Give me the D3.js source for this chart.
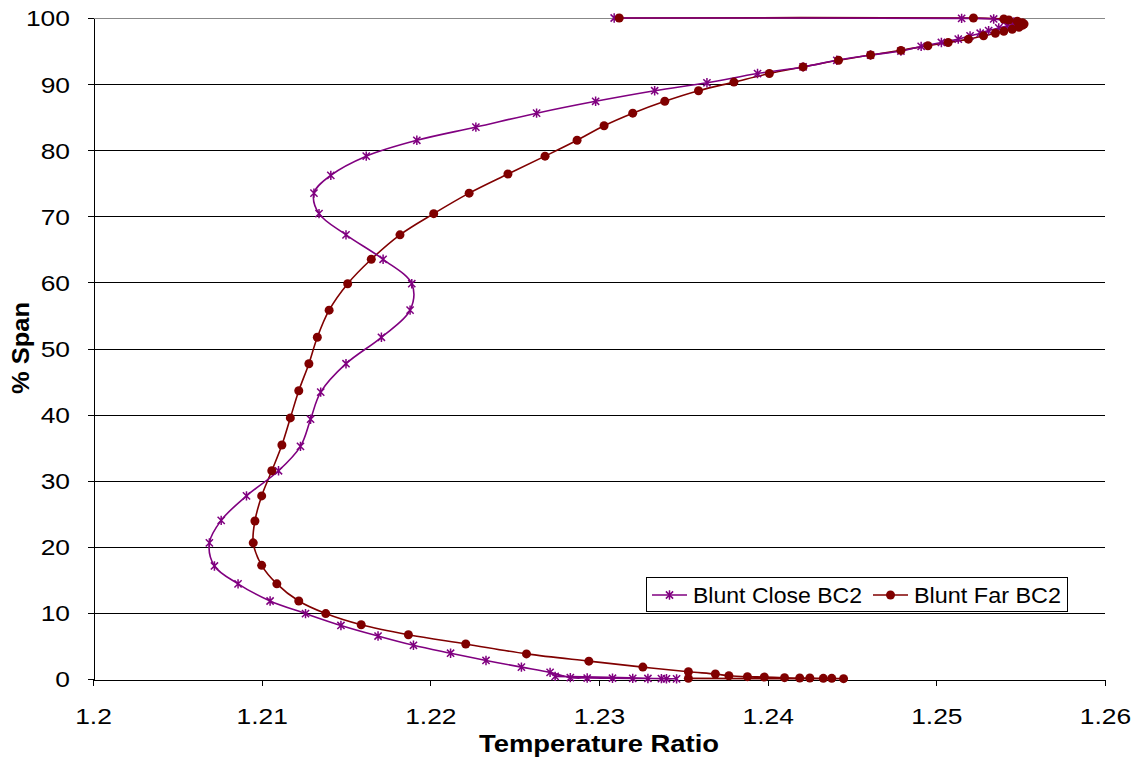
<!DOCTYPE html>
<html><head><meta charset="utf-8">
<script src="https://cdn.jsdelivr.net/npm/d3@7"></script>
<style>body{margin:0;background:#fff}svg{display:block;font-family:"Liberation Sans",Arial,sans-serif}</style>
</head><body><svg id="c" width="1147" height="763"></svg>
<script>
const xTicks = [1.2, 1.21, 1.22, 1.23, 1.24, 1.25, 1.26];
const yTicks = [0, 10, 20, 30, 40, 50, 60, 70, 80, 90, 100];
const seriesNames = ["Blunt Close BC2", "Blunt Far BC2"];
const closeX = [1.2274, 1.2346, 1.2340, 1.2337, 1.2329, 1.2320, 1.2308, 1.2293, 1.2283, 1.2271, 1.2254, 1.2233, 1.2212, 1.2190, 1.2169, 1.2147, 1.2126, 1.2105, 1.2086, 1.2072, 1.2069, 1.2076, 1.2091, 1.2110, 1.2123, 1.2129, 1.2135, 1.2150, 1.2171, 1.2188, 1.2189, 1.2172, 1.2150, 1.2134, 1.2131, 1.2141, 1.2162, 1.2192, 1.2227, 1.2263, 1.2298, 1.2333, 1.2364, 1.2394, 1.2421, 1.2441, 1.2461, 1.2479, 1.2491, 1.2503, 1.2513, 1.2520, 1.2526, 1.2531, 1.2537, 1.2542, 1.2546, 1.2546, 1.2541, 1.2534, 1.2515, 1.2309];
const closeY = [0.4, 0.02, 0.03, 0.05, 0.08, 0.1, 0.12, 0.15, 0.2, 1.0, 1.8, 2.8, 3.9, 5.1, 6.5, 8.1, 9.9, 11.8, 14.4, 17.1, 20.6, 24.0, 27.7, 31.5, 35.2, 39.3, 43.4, 47.7, 51.7, 55.8, 59.8, 63.5, 67.2, 70.4, 73.5, 76.2, 79.1, 81.5, 83.5, 85.6, 87.4, 89.0, 90.2, 91.6, 92.6, 93.6, 94.4, 95.0, 95.7, 96.3, 96.8, 97.3, 97.7, 98.1, 98.5, 98.8, 99.1, 99.4, 99.6, 99.85, 99.95, 100];
const farX = [1.2353, 1.2445, 1.2438, 1.2433, 1.2425, 1.2419, 1.2410, 1.2398, 1.2388, 1.2377, 1.2369, 1.2353, 1.2326, 1.2294, 1.2257, 1.2221, 1.2187, 1.2159, 1.2138, 1.2122, 1.2109, 1.2100, 1.2095, 1.2096, 1.2100, 1.2106, 1.2112, 1.2117, 1.2122, 1.2128, 1.2133, 1.2140, 1.2151, 1.2165, 1.2182, 1.2202, 1.2223, 1.2246, 1.2268, 1.2287, 1.2303, 1.2320, 1.2339, 1.2359, 1.2380, 1.2401, 1.2421, 1.2442, 1.2461, 1.2479, 1.2495, 1.2507, 1.2519, 1.2528, 1.2535, 1.2540, 1.2545, 1.2549, 1.2551, 1.2552, 1.2551, 1.2548, 1.2543, 1.2540, 1.2522, 1.2312];
const farY = [0.1, 0.05, 0.1, 0.1, 0.15, 0.15, 0.2, 0.3, 0.35, 0.5, 0.75, 1.1, 1.8, 2.7, 3.8, 5.3, 6.7, 8.2, 9.9, 11.8, 14.4, 17.2, 20.6, 23.9, 27.7, 31.5, 35.4, 39.5, 43.6, 47.7, 51.7, 55.8, 59.8, 63.5, 67.2, 70.4, 73.5, 76.4, 79.1, 81.5, 83.7, 85.6, 87.4, 89.0, 90.3, 91.6, 92.6, 93.6, 94.4, 95.1, 95.8, 96.3, 96.8, 97.3, 97.7, 98.0, 98.3, 98.6, 98.9, 99.1, 99.3, 99.5, 99.7, 99.85, 100, 100];

const svg = d3.select("#c");
const L = 93, R = 1105, T = 18, B = 679;
const x = d3.scaleLinear().domain([1.2, 1.26]).range([L, R]);
const y = d3.scaleLinear().domain([0, 100]).range([B, T]);

function stretch(sel, k) {
  sel.each(function () {
    const w = this.getComputedTextLength();
    d3.select(this).attr("textLength", w * k).attr("lengthAdjust", "spacingAndGlyphs");
  });
}

// gridlines
svg.append("g").selectAll("line").data(yTicks.filter(d => d > 0)).join("line")
  .attr("x1", L).attr("x2", R)
  .attr("y1", d => Math.round(y(d)) + 0.5).attr("y2", d => Math.round(y(d)) + 0.5)
  .attr("stroke", d => d === 100 ? "#888" : "#000").attr("stroke-width", 1).attr("shape-rendering", "crispEdges");

// axes
const xAxis = d3.axisBottom(x).tickValues(xTicks).tickFormat(d => String(+d.toFixed(2))).tickSize(6).tickSizeOuter(0);
const gx = svg.append("g").attr("transform", `translate(0,${Math.round(B)+0.5})`).call(xAxis);
gx.select(".domain").attr("stroke", "#000").attr("shape-rendering", "crispEdges");
gx.selectAll(".tick line").attr("stroke", "#000").attr("shape-rendering", "crispEdges");
gx.selectAll(".tick text").attr("font-size", 22).attr("font-family", "Liberation Sans, Arial, sans-serif")
  .attr("fill", "#000").attr("dy", null).attr("y", 44.5);
stretch(gx.selectAll(".tick text"), 1.2);

const yAxis = d3.axisLeft(y).tickValues(yTicks).tickSize(6).tickSizeOuter(0);
const gy = svg.append("g").attr("transform", `translate(${L+0.5},0)`).call(yAxis);
gy.select(".domain").attr("stroke", "#000").attr("shape-rendering", "crispEdges");
gy.selectAll(".tick line").attr("stroke", "#000").attr("shape-rendering", "crispEdges");
gy.selectAll(".tick text").attr("font-size", 22).attr("font-family", "Liberation Sans, Arial, sans-serif")
  .attr("fill", "#000").attr("x", -23.5).attr("dy", "0.36em");
stretch(gy.selectAll(".tick text"), 1.2);

// axis titles
svg.append("text").attr("x", 599).attr("y", 752).attr("text-anchor", "middle")
  .attr("font-size", 23).attr("font-weight", "bold").attr("textLength", 240).attr("lengthAdjust", "spacingAndGlyphs")
  .text("Temperature Ratio");
svg.append("text").attr("transform", `translate(29,348) rotate(-90)`).attr("text-anchor", "middle")
  .attr("font-size", 23).attr("font-weight", "bold").attr("textLength", 92).attr("lengthAdjust", "spacingAndGlyphs")
  .text("% Span");

const closeData = closeX.map((v, i) => [v, closeY[i]]);
const farData = farX.map((v, i) => [v, farY[i]]);
const line = d3.line().x(d => x(d[0])).y(d => y(d[1])).curve(d3.curveCatmullRom.alpha(0.5));

const cPurple = "#800080", cRed = "#800000";
const starPath = (s) => `M${-s},${-s}L${s},${s}M${-s},${s}L${s},${-s}M0,${-s * 1.3}L0,${s * 1.3}`;

svg.append("path").datum(farData).attr("d", line).attr("fill", "none").attr("stroke", cRed).attr("stroke-width", 1.6);
svg.append("path").datum(closeData).attr("d", line).attr("fill", "none").attr("stroke", cPurple).attr("stroke-width", 1.6);

svg.append("g").selectAll("path").data(closeData).join("path")
  .attr("transform", d => `translate(${x(d[0])},${y(d[1])})`)
  .attr("d", starPath(3.6)).attr("stroke", cPurple).attr("stroke-width", 1.5).attr("fill", "none");
svg.append("g").selectAll("circle").data(farData).join("circle")
  .attr("cx", d => x(d[0])).attr("cy", d => y(d[1])).attr("r", 4.5).attr("fill", cRed);

// legend
const lg = svg.append("g");
lg.append("rect").attr("x", 646.5).attr("y", 577.5).attr("width", 421).attr("height", 34)
  .attr("fill", "#fff").attr("stroke", "#000").attr("stroke-width", 1);
const items = [{name: seriesNames[0], color: cPurple, type: "star", x0: 652, tx: 693, w: 169},
               {name: seriesNames[1], color: cRed, type: "circle", x0: 873, tx: 914, w: 147}];
items.forEach(it => {
  lg.append("line").attr("x1", it.x0).attr("x2", it.x0 + 35).attr("y1", 595).attr("y2", 595)
    .attr("stroke", it.color).attr("stroke-width", 1.6);
  if (it.type === "star") {
    lg.append("path").attr("transform", `translate(${it.x0 + 17.5},595)`).attr("d", starPath(3.6))
      .attr("stroke", it.color).attr("stroke-width", 1.5).attr("fill", "none");
  } else {
    lg.append("circle").attr("cx", it.x0 + 17.5).attr("cy", 595).attr("r", 4.5).attr("fill", it.color);
  }
  lg.append("text").attr("x", it.tx).attr("y", 602.5).attr("font-size", 22)
    .attr("textLength", it.w).attr("lengthAdjust", "spacingAndGlyphs").text(it.name);
});
</script></body></html>
